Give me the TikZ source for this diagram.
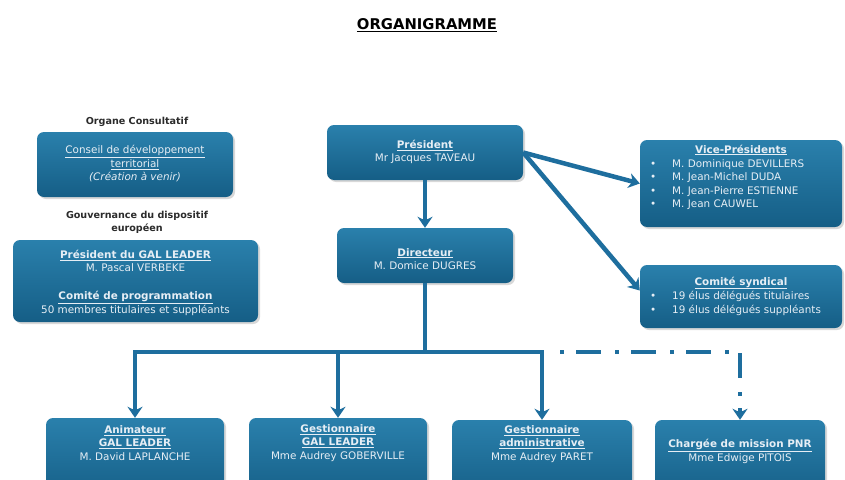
\documentclass[tikz,border=0pt]{standalone}
\usepackage{fontspec}
\setmainfont{DejaVu Sans}
\usetikzlibrary{arrows.meta,shadows,calc}
\definecolor{boxtop}{HTML}{2A80AC}
\definecolor{boxbot}{HTML}{155E86}
\definecolor{arr}{HTML}{1E6E9E}
\definecolor{txt}{HTML}{E6EEF5}
\definecolor{lblc}{HTML}{2B2B2B}
\begin{document}
\begin{tikzpicture}[x=1pt,y=-1pt,
  box/.style={rectangle, rounded corners=7pt, top color=boxtop, bottom color=boxbot, draw=none,
    drop shadow={opacity=0.3, shadow xshift=2pt, shadow yshift=-2pt}, inner sep=0pt},
  btxt/.style={text=txt, font=\fontsize{10.4}{13.5}\selectfont, align=center, inner sep=0pt},
  blist/.style={text=txt, font=\fontsize{10.4}{13.6}\selectfont, align=left, inner sep=0pt, anchor=west},
  lbl/.style={text=lblc, font=\fontsize{9.6}{12.5}\selectfont\bfseries, align=center, inner sep=0pt},
  plain/.style={draw=arr, line width=4.5pt},
  conn/.style={plain, -{Stealth[length=11pt,width=15pt,inset=3.5pt]}},
  dconn/.style={conn, dash pattern=on 4pt off 12pt on 25pt off 14pt}]
\useasboundingbox (0,0) rectangle (845,479);
\clip (0,0) rectangle (845,479);
\fill[white] (0,0) rectangle (845,479);

% title
\node[text=black, font=\fontsize{14.8}{16}\selectfont\bfseries, inner sep=0pt] (title) at (427,25) {\underline{ORGANIGRAMME}};

% left labels
\node[lbl] (orglbl) at (137,122) {Organe Consultatif};
\node[lbl] (govlbl) at (137,222.5) {Gouvernance du dispositif\\europ\'een};

% boxes
\node[box, minimum width=196pt, minimum height=65pt] (cons) at (135,164.5) {};
\node[box, minimum width=245pt, minimum height=82pt] (gal) at (135.5,281) {};
\node[box, minimum width=196pt, minimum height=55pt] (pres) at (425,152.5) {};
\node[box, minimum width=176pt, minimum height=55pt] (dir) at (425,255.5) {};
\node[box, minimum width=202pt, minimum height=87pt] (vice) at (741,183.5) {};
\node[box, minimum width=202pt, minimum height=63pt] (comite) at (741,296.5) {};
\node[box, minimum width=178pt, minimum height=82pt] (anim) at (135,459) {};
\node[box, minimum width=178pt, minimum height=82pt] (gesg) at (338,459) {};
\node[box, minimum width=180pt, minimum height=80pt] (gesa) at (542,460) {};
\node[box, minimum width=170pt, minimum height=80pt] (charg) at (740,460) {};

% box texts
\node[btxt] (cons-t) at (135,164) {\underline{Conseil de d\'eveloppement}\\\underline{territorial}\\\textit{(Cr\'eation \`a venir)}};
\node[btxt] (gal-t1) at (135.5,261) {\underline{\textbf{Pr\'esident du GAL LEADER}}\\M. Pascal VERBEKE};
\node[btxt] (gal-t2) at (135.5,303.5) {\underline{\textbf{Comit\'e de programmation}}\\50 membres titulaires  et suppl\'eants};
\node[btxt] (pres-t) at (425,152) {\underline{\textbf{Pr\'esident}}\\Mr Jacques TAVEAU};
\node[btxt] (dir-t) at (425,259) {\underline{\textbf{Directeur}}\\M. Domice DUGRES};
\node[btxt] (vice-h) at (741,150) {\underline{\textbf{Vice-Pr\'esidents}}};
\node[blist] (vice-l) at (650,184.5) {%
  \makebox[22pt][l]{\textbullet}M. Dominique DEVILLERS\\
  \makebox[22pt][l]{\textbullet}M. Jean-Michel DUDA\\
  \makebox[22pt][l]{\textbullet}M. Jean-Pierre ESTIENNE\\
  \makebox[22pt][l]{\textbullet}M. Jean CAUWEL};
\node[btxt] (comite-h) at (741,283) {\underline{\textbf{Comit\'e syndical}}};
\node[blist] (comite-l) at (650,303.5) {%
  \makebox[22pt][l]{\textbullet}19 \'elus d\'el\'egu\'es titulaires\\
  \makebox[22pt][l]{\textbullet}19 \'elus d\'el\'egu\'es suppl\'eants};
\node[btxt] (anim-t) at (135,443) {\underline{\textbf{Animateur}}\\\underline{\textbf{GAL LEADER}}\\M. David LAPLANCHE};
\node[btxt] (gesg-t) at (338,443) {\underline{\textbf{Gestionnaire}}\\\underline{\textbf{GAL LEADER}}\\Mme Audrey GOBERVILLE};
\node[btxt] (gesa-t) at (542,444) {\underline{\textbf{Gestionnaire}}\\\underline{\textbf{administrative}}\\Mme Audrey PARET};
\node[btxt] (charg-t) at (740,451.5) {\underline{\textbf{Charg\'ee de mission PNR}}\\Mme Edwige PITOIS};

% connectors
\draw[conn] (pres.south) -- (dir.north);
\draw[conn] (pres.east) -- (vice.west);
\draw[conn] (pres.east) -- ($(comite.west)+(0,-6)$);
\coordinate (jn) at (425,352);
\coordinate (dstart) at (560,352);
\draw[plain] (dir.south) -- (jn);
\draw[conn] (jn) -| (anim.north);
\draw[conn] (jn) -| (gesa.north);
\draw[conn] (gesg.north |- jn) -- (gesg.north);
\draw[dconn] (dstart) -| (charg.north);
\end{tikzpicture}
\end{document}
